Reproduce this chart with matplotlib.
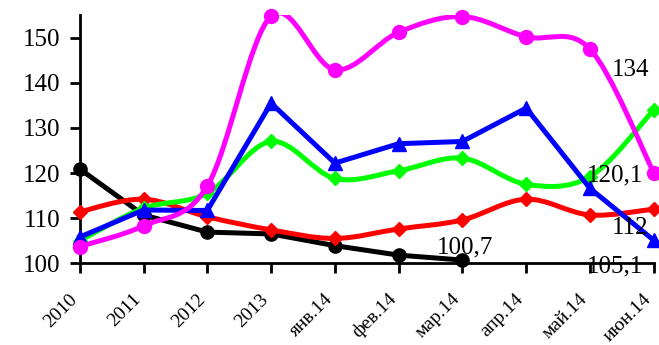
import matplotlib.pyplot as plt
import matplotlib.transforms as mtransforms
import numpy as np
from matplotlib.path import Path
from matplotlib.patches import PathPatch

plt.rcParams['font.family'] = ['Liberation Serif', 'DejaVu Serif']

categories = ["2010", "2011", "2012", "2013", "янв.14", "фев.14",
              "мар.14", "апр.14", "май.14", "июн.14"]

black_vals = [120.9, 110.7, 106.9, 106.5, 103.9, 101.8, 100.7]
red_vals = [111.4, 114.2, 110.3, 107.4, 105.5, 107.6, 109.6, 114.2, 110.7, 112.0]
green_vals = [105.0, 112.2, 115.5, 127.0, 118.8, 120.5, 123.3, 117.5, 119.2, 134.0]
blue_vals = [105.8, 111.8, 111.7, 135.5, 122.2, 126.5, 127.0, 134.4, 116.6, 105.1]
pink_vals = [103.7, 108.3, 117.1, 154.8, 142.9, 151.2, 154.7, 150.2, 147.5, 120.1]

# data labels (text, x position, y position) as placed in the original
label_texts = ["100,7", "134", "120,1", "112", "105,1"]
label_x = [5.6, 8.35, 7.95, 8.35, 7.95]
label_y = [103.6, 142.9, 119.4, 107.8, 99.3]


def smooth_path(x, y):
    # Excel-style smoothing: cubic bezier with catmull-rom control points
    pts = np.column_stack([x, y]).astype(float)
    n = len(pts)
    verts = [pts[0]]
    codes = [Path.MOVETO]
    for i in range(n - 1):
        p0 = pts[i - 1] if i > 0 else pts[i]
        p1 = pts[i]
        p2 = pts[i + 1]
        p3 = pts[i + 2] if i + 2 < n else pts[i + 1]
        c1 = p1 + (p2 - p0) / 6
        c2 = p2 - (p3 - p1) / 6
        verts += [c1, c2, p2]
        codes += [Path.CURVE4] * 3
    return Path(verts, codes)


fig = plt.figure(figsize=(6.59, 3.45), dpi=100)
ax = fig.add_axes([0.121, 0.237, 0.871, 0.719])

x = np.arange(len(categories))
lw = 3.6

series = [
    (black_vals, "black", "o", 9.5, False),
    (red_vals, "#ff0000", "D", 7.5, True),
    (green_vals, "#00ff00", "D", 7.5, True),
    (blue_vals, "#0000ff", "^", 10.5, False),
    (pink_vals, "#ff00ff", "o", 10, True),
]

for z, (vals, col, mk, ms, smooth) in enumerate(series):
    xs = x[:len(vals)]
    if smooth:
        ax.add_patch(PathPatch(smooth_path(xs, vals), facecolor="none",
                               edgecolor=col, lw=lw, zorder=2 + z,
                               capstyle="round", joinstyle="round"))
        ax.plot(xs, vals, linestyle="none", marker=mk, ms=ms, color=col,
                zorder=2 + z, clip_on=False)
    else:
        ax.plot(xs, vals, color=col, lw=lw, marker=mk, ms=ms, zorder=2 + z,
                clip_on=False, solid_joinstyle="round")

for txt, lx, ly in zip(label_texts, label_x, label_y):
    ax.text(lx, ly, txt, fontsize=18, ha="left", va="center", zorder=10,
            clip_on=False)

ax.set_xlim(0, 9)
ax.set_ylim(100, 155)
ax.set_yticks([100, 110, 120, 130, 140, 150])
ax.set_xticks(x)
ax.set_xticklabels(categories, rotation=45, ha="right", va="center",
                   rotation_mode="anchor")
ax.tick_params(axis="y", labelsize=18, width=2, length=7, direction="out", pad=7)
ax.tick_params(axis="x", labelsize=14, width=2, length=7, direction="out", pad=17)
shift = mtransforms.ScaledTranslation(-0.05, 0, fig.dpi_scale_trans)
for lab in ax.get_xticklabels():
    lab.set_transform(lab.get_transform() + shift)
for s in ["top", "right"]:
    ax.spines[s].set_visible(False)
for s in ["left", "bottom"]:
    ax.spines[s].set_linewidth(2)

fig.savefig("out.png", dpi=100)
